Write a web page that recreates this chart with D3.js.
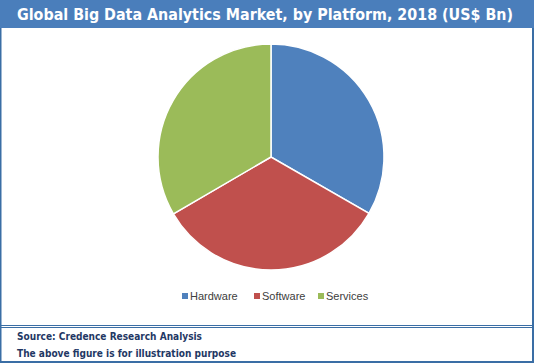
<!DOCTYPE html>
<html lang="en">
<head>
  <meta charset="UTF-8">
  <title>Global Big Data Analytics Market, by Platform, 2018</title>
  <script src="https://d3js.org/d3.v7.min.js"></script>
  <style>
    body { margin: 0; background: #fff; }
    svg { display: block; }
  </style>
</head>
<body>
  <script>
    const platforms = ['Hardware', 'Software', 'Services']
    const marketValues = [33.3, 33.3, 33.4]
    const colors = ['#4F81BD', '#C0504D', '#9BBB59']

    const w = 534
    const h = 363

    const svg = d3.select('body')
      .append('svg')
      .attr('width', w)
      .attr('height', h)

    // frame
    svg.append('rect')
      .attr('x', 0.5).attr('y', 0.5)
      .attr('width', w - 1.5).attr('height', h - 1.5)
      .attr('fill', '#fff')
      .attr('stroke', '#3A6EA5')
      .attr('stroke-width', 2)

    // title bar
    svg.append('rect')
      .attr('x', 0).attr('y', 0)
      .attr('width', w).attr('height', 28)
      .attr('fill', '#4A7EBB')

    svg.append('text')
      .attr('x', 17)
      .attr('y', 20)
      .attr('fill', '#fff')
      .attr('textLength', 496)
      .attr('lengthAdjust', 'spacingAndGlyphs')
      .style('font-family', '"DejaVu Sans Condensed", "DejaVu Sans", sans-serif')
      .style('font-weight', 'bold')
      .style('font-size', '16px')
      .text('Global Big Data Analytics Market, by Platform, 2018 (US$ Bn)')

    // pie
    const pie = d3.pie().sort(null).startAngle(0)
    const arc = d3.arc().innerRadius(0).outerRadius(113)

    const g = svg.append('g')
      .attr('transform', 'translate(271,157)')

    g.selectAll('path')
      .data(pie(marketValues))
      .enter()
      .append('path')
      .attr('d', arc)
      .attr('fill', (d, i) => colors[i])
      .attr('stroke', '#fff')
      .attr('stroke-width', 1.5)

    // legend
    const legendX = [182, 254, 318]
    const legend = svg.selectAll('.legend')
      .data(platforms)
      .enter()
      .append('g')
      .attr('transform', (d, i) => `translate(${legendX[i]},296)`)

    legend.append('rect')
      .attr('x', 0).attr('y', -3)
      .attr('width', 6).attr('height', 6)
      .attr('fill', (d, i) => colors[i])

    legend.append('text')
      .attr('x', 8)
      .attr('y', 4)
      .attr('fill', '#404040')
      .style('font', '11px "Liberation Sans", Arial, sans-serif')
      .text(d => d)

    // footer
    svg.append('line')
      .attr('x1', 0).attr('x2', w)
      .attr('y1', 325.5).attr('y2', 325.5)
      .attr('stroke', '#3A6EA5')
    svg.append('line')
      .attr('x1', 0).attr('x2', w)
      .attr('y1', 327.5).attr('y2', 327.5)
      .attr('stroke', '#3A6EA5')

    const notes = ['Source: Credence Research Analysis', 'The above figure is for illustration purpose']
    const noteWidths = [185, 219]
    svg.selectAll('.note')
      .data(notes)
      .enter()
      .append('text')
      .attr('x', 17)
      .attr('y', (d, i) => 340 + i * 17)
      .attr('fill', '#1F3864')
      .attr('textLength', (d, i) => noteWidths[i])
      .attr('lengthAdjust', 'spacingAndGlyphs')
      .style('font', 'bold 10px "DejaVu Sans", Verdana, sans-serif')
      .text(d => d)
  </script>
</body>
</html>
